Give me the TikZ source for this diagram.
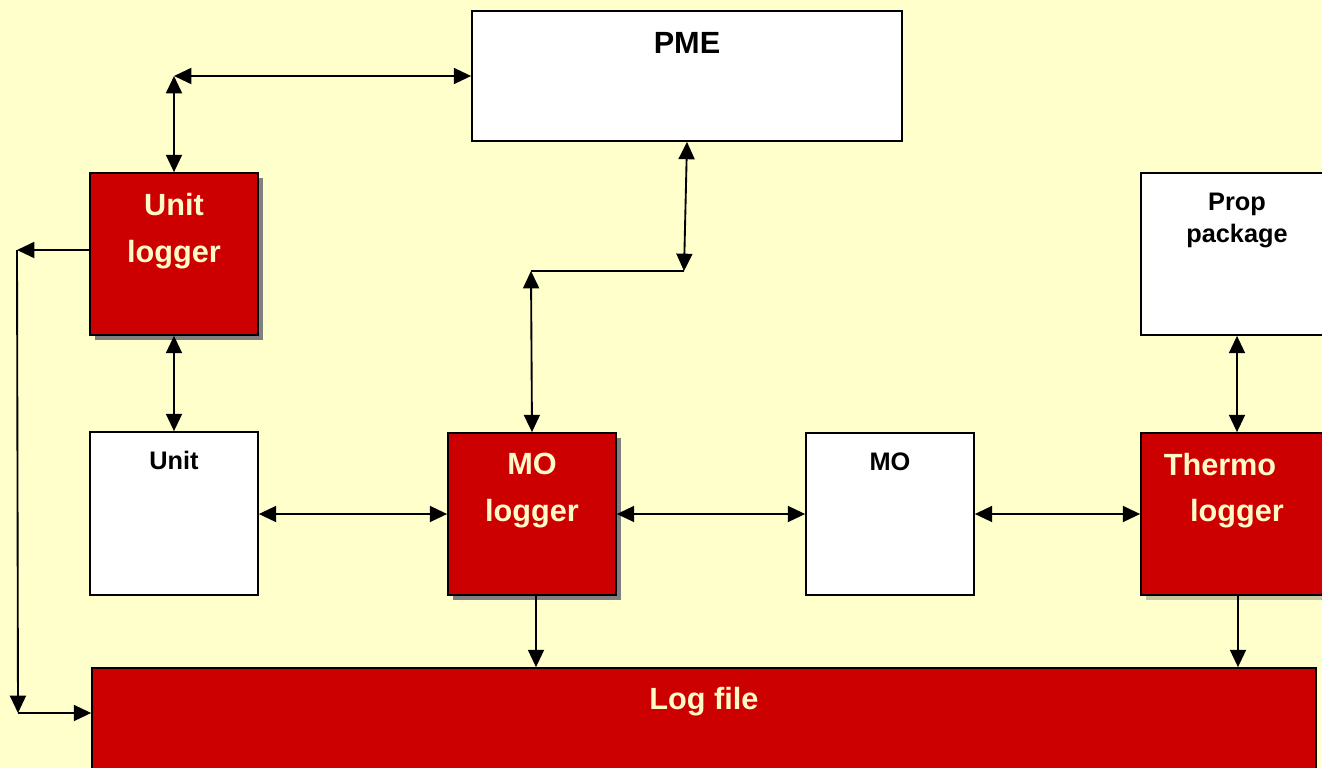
\documentclass[tikz,border=0pt]{standalone}
\usepackage{fontspec}
\setmainfont{Liberation Sans}
\usetikzlibrary{arrows.meta,fit,shadows}
\definecolor{bg}{HTML}{FFFFCC}
\definecolor{lred}{HTML}{CC0000}
\definecolor{cream}{HTML}{FFFAC8}
\definecolor{shadowgray}{HTML}{808080}
\tikzset{
  box/.style={draw=black, line width=1.3pt, inner sep=0pt, fill=white},
  redbox/.style={box, fill=lred},
  darkshadow/.style={drop shadow={shadow xshift=3.8pt, shadow yshift=-3.8pt, fill=shadowgray, opacity=1}},
  lightshadow/.style={drop shadow={shadow xshift=3.8pt, shadow yshift=-3.8pt, fill=black!22!bg, opacity=1}},
  bigtxt/.style={anchor=base, font=\fontsize{23}{28}\selectfont\bfseries, text=cream, inner sep=0pt},
  bigblk/.style={anchor=base, font=\fontsize{23}{28}\selectfont\bfseries, text=black, inner sep=0pt},
  smalltxt/.style={anchor=base, font=\fontsize{19}{23}\selectfont\bfseries, text=black, inner sep=0pt},
  tip/.tip={Triangle[length=13pt,width=12pt]},
  conn/.style={line width=1.4pt, draw=black},
  dbl/.style={conn, tip-tip},
  sgl/.style={conn, -tip},
}
\begin{document}
\begin{tikzpicture}[x=0.75pt,y=-0.75pt]
\fill[bg] (0,0) rectangle (1322,768);
\useasboundingbox (0,0) rectangle (1322,768);

% boxes
\node[box, fit={(472,11) (902,141)}] (pme) {};
\node[redbox, darkshadow, fit={(90,173) (258,335)}] (ul) {};
\node[box, fit={(1141,173) (1332,335)}] (prop) {};
\node[box, fit={(90,432) (258,595)}] (unit) {};
\node[redbox, darkshadow, fit={(448,433) (616,595)}] (mol) {};
\node[box, fit={(806,433) (974,595)}] (mo) {};
\node[redbox, lightshadow, fit={(1141,433) (1332,595)}] (tl) {};
\node[redbox, fit={(92,668) (1316,780)}] (log) {};

% texts
\node[bigblk] (tpme) at (687,53) {PME};
\node[bigtxt] (tul1) at (174,215) {Unit};
\node[bigtxt] (tul2) at (174,262) {logger};
\node[smalltxt] (tprop1) at (1237,210) {Prop};
\node[smalltxt] (tprop2) at (1237,242) {package};
\node[smalltxt] (tunit) at (174,469) {Unit};
\node[bigtxt] (tmol1) at (532,474) {MO};
\node[bigtxt] (tmol2) at (532,521) {logger};
\node[smalltxt] (tmo) at (890,470) {MO};
\node[bigtxt] (ttl1) at (1220,475) {Thermo};
\node[bigtxt] (ttl2) at (1237,521) {logger};
\node[bigtxt] (tlog) at (704,709) {Log file};

% coordinates
\coordinate (c0) at (174,76);
\coordinate (c1) at (684,271);
\coordinate (c2) at (531,271);
\coordinate (c3) at (17,250);
\coordinate (c4) at (18,713);

% connectors
\draw[dbl] (c0) -- (pme.west |- c0);
\draw[dbl] (c0) -- (ul.north);
\draw[dbl] (pme.south) -- (c1);
\draw[conn] (c1) -- (c2);
\draw[dbl] (c2) -- (mol.north);
\draw[sgl] (c3 -| ul.west) -- (c3);
\draw[sgl] (c3) -- (c4);
\draw[sgl] (c4) -- (c4 -| log.west);
\draw[dbl] (ul.south) -- (unit.north);
\draw[dbl] (unit.east |- 0,514) -- (mol.west |- 0,514);
\draw[dbl] (mol.east |- 0,514) -- (mo.west |- 0,514);
\draw[dbl] (mo.east |- 0,514) -- (tl.west |- 0,514);
\draw[dbl] (prop.south -| 1237,0) -- (tl.north -| 1237,0);
\draw[sgl] (mol.south -| 536,0) -- (log.north -| 536,0);
\draw[sgl] (tl.south -| 1238,0) -- (log.north -| 1238,0);
\end{tikzpicture}
\end{document}
